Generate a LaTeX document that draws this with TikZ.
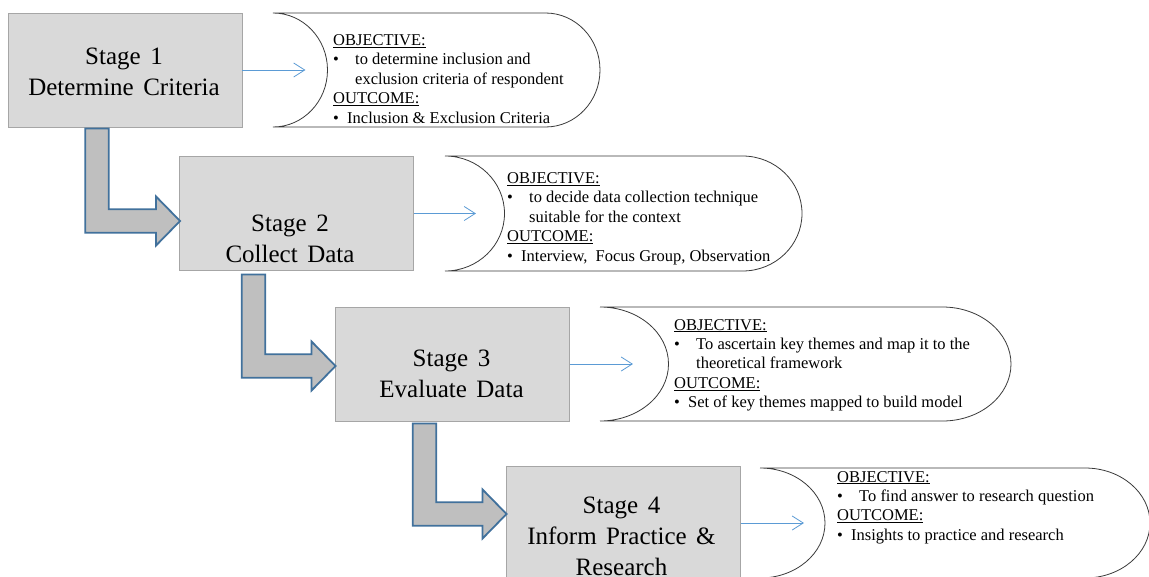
\documentclass[tikz,border=0pt]{standalone}
\usepackage{fontspec}
\setmainfont{Liberation Serif}
\usetikzlibrary{arrows.meta,calc}

\definecolor{boxfill}{HTML}{D9D9D9}
\definecolor{boxline}{HTML}{A6A6A6}
\definecolor{bentfill}{HTML}{BFBFBF}
\definecolor{bentline}{HTML}{41719C}
\definecolor{linkblue}{HTML}{5B9BD5}
\definecolor{noteline}{HTML}{3A3A3A}

\tikzset{
  stagebox/.style={draw=boxline, fill=boxfill, line width=0.9pt,
    minimum width=234pt, minimum height=114pt, inner sep=0pt},
  stagetext/.style={anchor=base, inner sep=0pt, font=\fontsize{25}{30}\selectfont},
  notetext/.style={anchor=base west, inner sep=0pt, font=\fontsize{16.5}{19.4}\selectfont},
  bent/.style={draw=bentline, fill=bentfill, line width=1.8pt, line join=miter},
  link/.style={draw=linkblue, line width=0.8pt, -{Straight Barb[length=11pt,width=14pt]}},
  note/.style={draw=noteline, line width=0.8pt, fill=white},
}

% two or three centred lines inside a stage box
\newcommand\stagelines[1]{\vtop{\baselineskip=31pt\spaceskip=9.5pt plus 2pt
  \halign{\hfil##\hfil\cr #1\cr}}}
% lines of a note: heading, bullet, continuation, outcome bullet
\newcommand\notebody[1]{\vtop{\baselineskip=19.4pt\lineskiplimit=-20pt #1}}
\newcommand\notehead[1]{\hbox{\underline{#1}}}
\newcommand\noteobj[1]{\hbox{\makebox[22pt][l]{•}#1}}
\newcommand\notecont[1]{\hbox{\hspace*{22pt}#1}}
\newcommand\noteout[1]{\hbox{\makebox[14pt][l]{•}#1}}

% note outline: concave left side, rounded right end
% #1 name of the inner point, #2 left, #3 top, #4 bottom, #5 right
\newcommand\notepath[5]{%
  \pgfmathsetmacro\cvR{(#5-#2)/6}%
  \pgfmathsetmacro\cvM{(#3+#4)/2}%
  \pgfmathsetmacro\cvH{(#4-#3)/2}%
  \pgfmathsetmacro\cvK{0.5523}%
  \draw[note] (#2,#3) -- ({#5-\cvR},#3)
    .. controls ({#5-\cvR+\cvK*\cvR},#3) and (#5,{\cvM-\cvK*\cvH}) .. (#5,\cvM)
    .. controls (#5,{\cvM+\cvK*\cvH}) and ({#5-\cvR+\cvK*\cvR},#4) .. ({#5-\cvR},#4)
    -- (#2,#4)
    .. controls ({#2+\cvK*\cvR},#4) and ({#2+\cvR},{\cvM+\cvK*\cvH}) .. ({#2+\cvR},\cvM)
    .. controls ({#2+\cvR},{\cvM-\cvK*\cvH}) and ({#2+\cvK*\cvR},#3) .. (#2,#3) -- cycle;
  \coordinate (#1) at ({#2+\cvR},\cvM);
}

% bent block arrow from the top of its shaft (#1) to its tip (#2)
\newcommand\bentarrow[2]{%
  \draw[bent] let \p1=(#1), \p2=(#2) in
    (\x1-11.75pt,\y1) -- (\x1+11.75pt,\y1) -- (\x1+11.75pt,\y2+11.75pt)
    -- (\x2-24pt,\y2+11.75pt) -- (\x2-24pt,\y2+24.5pt) -- (\x2,\y2)
    -- (\x2-24pt,\y2-24.5pt) -- (\x2-24pt,\y2-11.75pt)
    -- (\x1-11.75pt,\y2-11.75pt) -- cycle;
}

\begin{document}
\begin{tikzpicture}[x=1pt,y=-1pt]
  \fill[white] (0,0) rectangle (1149,576);
  \clip (0,0) rectangle (1149,576);

  % notes
  \notepath{n1}{273}{13}{127}{600}
  \notepath{n2}{445}{156}{271}{802}
  \notepath{n3}{600}{307}{421}{1011}
  \notepath{n4}{760}{468}{578}{1150}

  \node[notetext] (n1t) at (333,45.5) {\notebody{%
    \notehead{OBJECTIVE:}
    \noteobj{to determine inclusion and}
    \notecont{exclusion criteria of respondent}
    \notehead{OUTCOME:}
    \noteout{Inclusion \& Exclusion Criteria}}};
  \node[notetext] (n2t) at (507,183.5) {\notebody{%
    \notehead{OBJECTIVE:}
    \noteobj{to decide data collection technique}
    \notecont{suitable for the context}
    \notehead{OUTCOME:}
    \noteout{Interview,\ \ Focus Group, Observation}}};
  \node[notetext] (n3t) at (674,330) {\notebody{%
    \notehead{OBJECTIVE:}
    \noteobj{To ascertain key themes and map it to the}
    \notecont{theoretical framework}
    \notehead{OUTCOME:}
    \noteout{Set of key themes mapped to build model}}};
  \node[notetext] (n4t) at (837,482) {\notebody{%
    \notehead{OBJECTIVE:}
    \noteobj{To find answer to research question}
    \notehead{OUTCOME:}
    \noteout{Insights to practice and research}}};

  % stage boxes
  \node[stagebox] (s1) at (125,70) {};
  \node[stagebox] (s2) at (296.5,213.5) {};
  \node[stagebox] (s3) at (452.5,364) {};
  \node[stagebox] (s4) at (623.5,523) {};

  \node[stagetext] (s1t) at (124,64.5) {\stagelines{Stage 1\cr Determine Criteria}};
  \node[stagetext] (s2t) at (290,231.5) {\stagelines{Stage 2\cr Collect Data}};
  \node[stagetext] (s3t) at (451.5,366.5) {\stagelines{Stage 3\cr Evaluate Data}};
  \node[stagetext] (s4t) at (621.5,513) {\stagelines{Stage 4\cr Inform Practice \&\cr Research}};

  % block arrows between stages
  \coordinate (a1s) at ($(s1.south west)+(89.5,1)$);
  \coordinate (a1t) at ($(s2.west)+(1,7.5)$);
  \coordinate (a2s) at ($(s2.south west)+(74.5,3.5)$);
  \coordinate (a2t) at ($(s3.west)+(0.5,2)$);
  \coordinate (a3s) at ($(s3.south west)+(89.5,2)$);
  \coordinate (a3t) at ($(s4.west)+(0.5,-9)$);
  \bentarrow{a1s}{a1t}
  \bentarrow{a2s}{a2t}
  \bentarrow{a3s}{a3t}

  % links from each stage to its note
  \coordinate (t1) at ($(s1.east)+(63,0)$);
  \coordinate (t2) at ($(s2.east)+(62,0)$);
  \coordinate (t3) at ($(s3.east)+(63,0)$);
  \coordinate (t4) at ($(s4.east)+(63,0)$);
  \draw[link] (s1.east) -- (t1);
  \draw[link] (s2.east) -- (t2);
  \draw[link] (s3.east) -- (t3);
  \draw[link] (s4.east) -- (t4);
\end{tikzpicture}
\end{document}
